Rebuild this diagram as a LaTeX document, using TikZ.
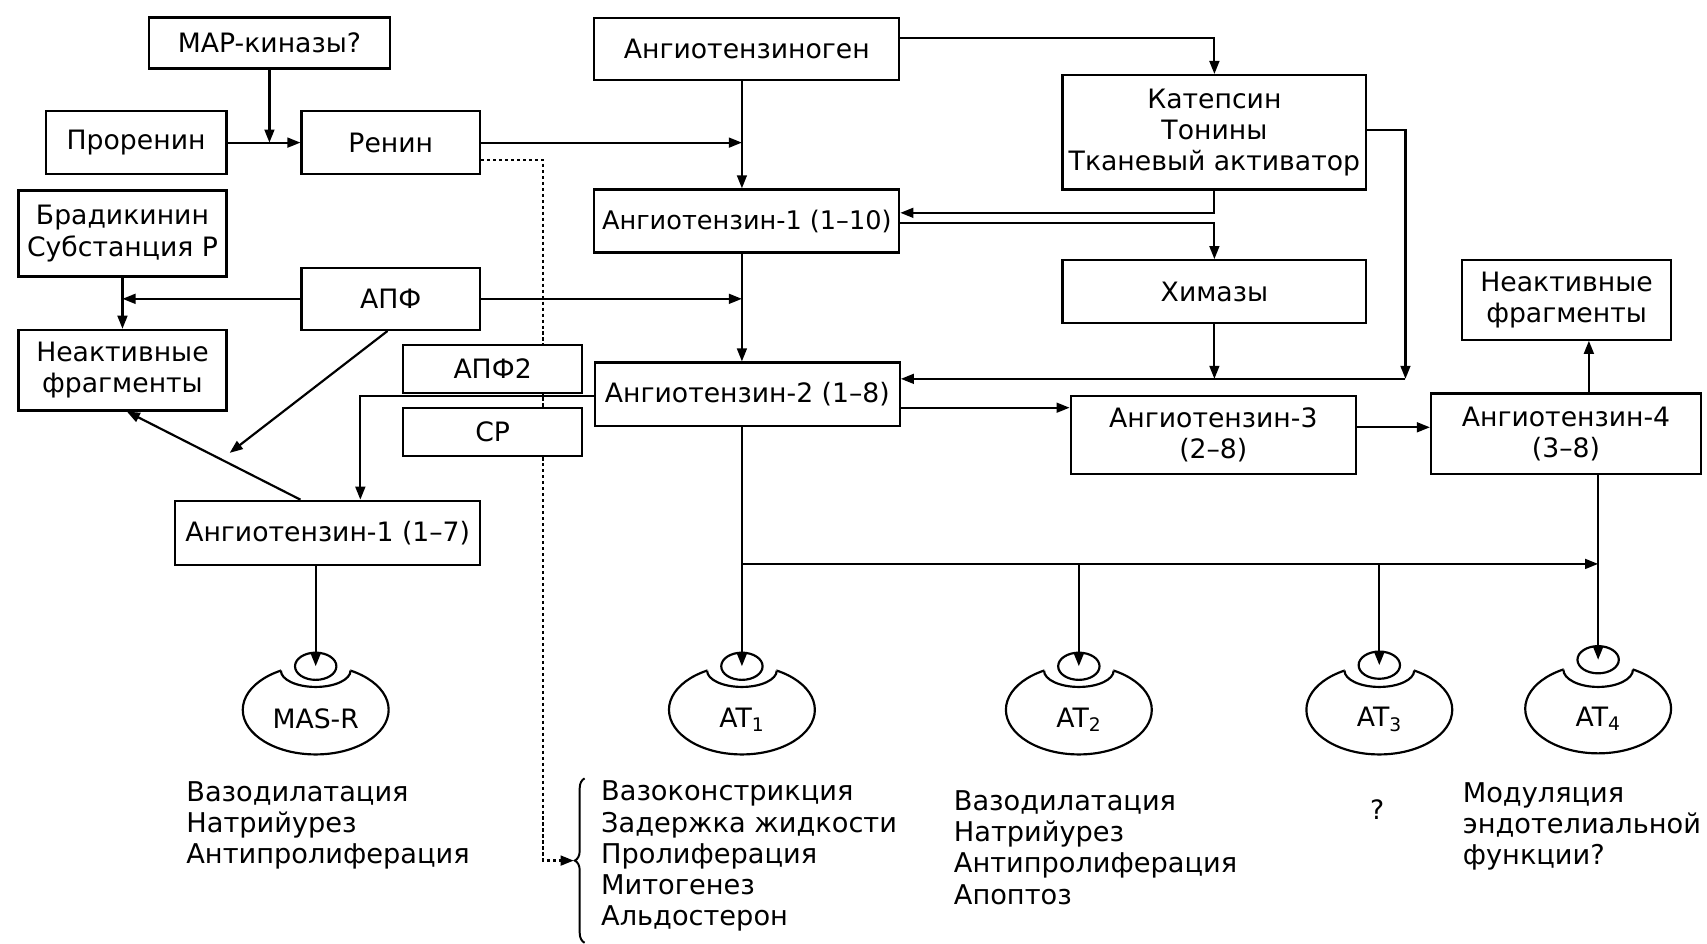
\documentclass[tikz,border=0pt]{standalone}
\usepackage{fontspec}
\setmainfont{DejaVu Sans}
\usetikzlibrary{arrows.meta,shapes.geometric,decorations.pathreplacing}

\tikzset{
  box/.style={draw, fill=white, line width=2pt, inner sep=0pt, align=center},
  recep/.style={ellipse, draw, line width=2pt, minimum width=134pt, minimum height=82pt, inner sep=0pt},
  lig/.style={ellipse, draw, fill=white, line width=2pt, minimum width=38pt, minimum height=25pt, inner sep=0pt},
  link/.style={line width=2pt, -{Triangle[length=12pt,width=9pt]}},
  dotlink/.style={link, dash pattern=on 3pt off 2.5pt},
  effect/.style={anchor=west, align=left, inner sep=0pt, font=\fontsize{25}{28.7}\selectfont}
}

\begin{document}
\begin{tikzpicture}[x=1pt, y=-1pt, font=\fontsize{24.5}{28.6}\selectfont]
    \useasboundingbox (0,0) rectangle (1568,867);

    % top part
    \node[box, minimum width=221pt, minimum height=47pt] (map) at (247.5,39.5) {MAP-киназы?};
    \node[box, minimum width=166pt, minimum height=58pt] (proren) at (125,131) {Проренин};
    \node[box, minimum width=164pt, minimum height=58pt] (renin) at (359,131) {Ренин};
    \node[box, minimum width=280pt, minimum height=57pt] (agen) at (686,45) {Ангиотензиноген};
    \node[box, minimum width=279pt, minimum height=105pt] (katep) at (1115.5,121.5) {Катепсин\\Тонины\\Тканевый активатор};
    \node[box, minimum width=280pt, minimum height=58pt, font=\fontsize{23.5}{28}\selectfont] (ang1) at (686,203) {Ангиотензин-1 (1–10)};
    \node[box, minimum width=191pt, minimum height=79pt] (brad) at (112.5,214.5) {Брадикинин\\Субстанция P};
    \node[box, minimum width=164pt, minimum height=57pt] (apf) at (359,274.5) {АПФ};
    \node[box, minimum width=279pt, minimum height=58pt] (chym) at (1115.5,268) {Химазы};
    \node[box, minimum width=192pt, minimum height=73pt] (inR) at (1439,275.5) {Неактивные\\фрагменты};
    \node[box, minimum width=191pt, minimum height=74pt] (inL) at (112.5,340) {Неактивные\\фрагменты};

    % dotted path runs behind the enzyme boxes
    \coordinate (brtip) at (527,790.5);
    \draw[dotlink] ([yshift=-16pt]renin.east) -| ([xshift=-28pt]brtip) -- (brtip);
    \draw[line width=1.8pt, decorate, decoration={brace, amplitude=9pt}] (537,866) -- (537,715);

    \node[box, minimum width=164pt, minimum height=44pt] (apf2) at (452.5,339) {АПФ2};
    \node[box, minimum width=164pt, minimum height=44pt] (sr) at (452.5,397) {СР};
    \node[box, minimum width=280pt, minimum height=58pt] (ang2) at (686.5,362) {Ангиотензин-2 (1–8)};
    \node[box, minimum width=262pt, minimum height=72pt] (ang3) at (1114.5,399.5) {Ангиотензин-3\\(2–8)};
    \node[box, minimum width=248pt, minimum height=74pt] (ang4) at (1438.5,398.5) {Ангиотензин-4\\(3–8)};
    \node[box, minimum width=280pt, minimum height=59pt] (ang17) at (301,489.5) {Ангиотензин-1 (1–7)};

    % receptors
    \node[recep] (masr) at (290,652) {};
    \fill[white] (290,616) ellipse [x radius=32, y radius=15];
    \draw[line width=2pt] (258,616) arc[start angle=180, end angle=0, x radius=32, y radius=15];
    \node[lig] (masrl) at (290,612) {};
    \node (masrt) at (290,660) {MAS-R};

    \node[recep] (at1) at (681.5,652) {};
    \fill[white] (681.5,616) ellipse [x radius=32, y radius=15];
    \draw[line width=2pt] (649.5,616) arc[start angle=180, end angle=0, x radius=32, y radius=15];
    \node[lig] (at1l) at (681.5,612) {};
    \node (at1t) at (681.5,661) {AT\textsubscript{1}};

    \node[recep] (at2) at (991,652) {};
    \fill[white] (991,616) ellipse [x radius=32, y radius=15];
    \draw[line width=2pt] (959,616) arc[start angle=180, end angle=0, x radius=32, y radius=15];
    \node[lig] (at2l) at (991,612) {};
    \node (at2t) at (991,661) {AT\textsubscript{2}};

    \node[recep] (at3) at (1267,652) {};
    \fill[white] (1267,616) ellipse [x radius=32, y radius=15];
    \draw[line width=2pt] (1235,616) arc[start angle=180, end angle=0, x radius=32, y radius=15];
    \node[lig] (at3l) at (1267,611) {};
    \node (at3t) at (1267,661) {AT\textsubscript{3}};

    \node[recep] (at4) at (1468,651) {};
    \fill[white] (1468,615) ellipse [x radius=32, y radius=16];
    \draw[line width=2pt] (1436,615) arc[start angle=180, end angle=0, x radius=32, y radius=16];
    \node[lig] (at4l) at (1468,606) {};
    \node (at4t) at (1468,660) {AT\textsubscript{4}};

    % main chain
    \coordinate (spine) at (681.5,0);
    \draw[link] (agen.south -| spine) -- (ang1.north -| spine);
    \draw[link] (ang1.south -| spine) -- (ang2.north -| spine);
    \draw[link] (map) -- (map |- proren);
    \draw[link] (proren) -- (renin);
    \draw[link] (renin) -- (renin -| spine);
    \draw[link] (apf) -- (apf -| spine);
    \draw[link] (apf) -- (apf -| brad);
    \draw[link] (brad) -- (inL);
    \coordinate (apfhit) at (211,416);
    \draw[link] ([xshift=-3pt]apf.south) -- (apfhit);
    \draw[link] ([xshift=-25pt]ang17.north) -- ([xshift=4pt]inL.south);
    \draw[link] ([yshift=-2pt]ang2.west) -| ([xshift=30pt]ang17.north);

    % right side
    \draw[link] ([yshift=10pt]agen.east) -| (katep);
    \draw[link] (katep) |- ([yshift=7.5pt]ang1.east);
    \draw[link] ([yshift=-1.5pt]ang1.east) -| (chym);
    \coordinate (join) at (1291,348);
    \draw[link] ([yshift=2pt]katep.east) -| (join);
    \draw[link] (chym) -- (chym |- join);
    \draw[link] (join) -- (join -| ang2.east);
    \draw[link] ([yshift=-12.5pt]ang2.east) -- ([yshift=25pt]ang3.west);
    \draw[link] ([yshift=7pt]ang3.east) -- ([yshift=6pt]ang4.west);
    \draw[link] ([xshift=21pt]ang4.north) -- ([xshift=20.5pt]inR.south);

    % to the receptors
    \draw[link] (ang17.south -| masrl) -- (masrl.center);
    \draw[link] (ang2.south -| spine) -- (at1l.center);
    \coordinate (bus) at (681.5,518);
    \draw[link] (bus) -- (bus -| at4l);
    \draw[link] (bus -| at2l) -- (at2l.center);
    \draw[link] (bus -| at3l) -- (at3l.center);
    \draw[link] (ang4.south -| at4l) -- (at4l.center);

    % effects
    \node[effect] (masrfx) at (171,758) {Вазодилатация\\Натрийурез\\Антипролиферация};
    \node[effect] (at1fx) at (552,786.5) {Вазоконстрикция\\Задержка жидкости\\Пролиферация\\Митогенез\\Альдостерон};
    \node[effect] (at2fx) at (876,778.5) {Вазодилатация\\Натрийурез\\Антипролиферация\\Апоптоз};
    \node (at3fx) at (1265,744) {?};
    \node[effect] (at4fx) at (1343.5,759) {Модуляция\\эндотелиальной\\функции?};
\end{tikzpicture}
\end{document}
